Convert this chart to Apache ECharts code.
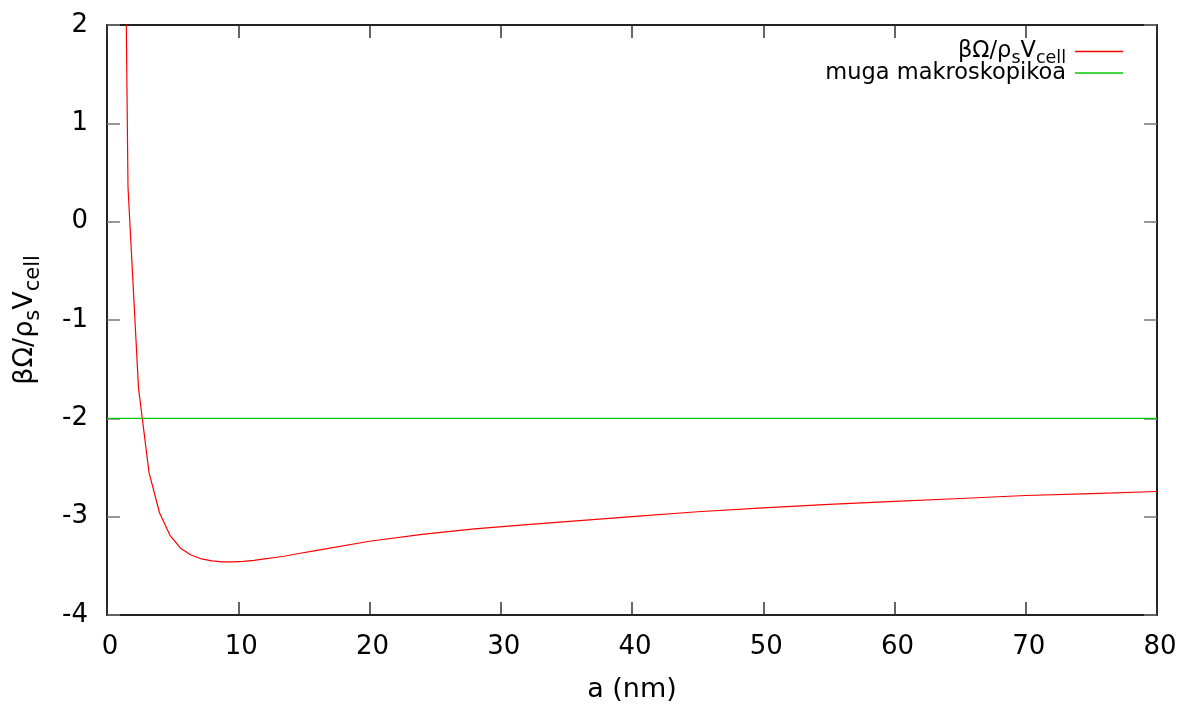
<!DOCTYPE html>
<html>
<head>
<meta charset="utf-8">
<script src="https://cdn.jsdelivr.net/npm/echarts@6/dist/echarts.min.js"></script>
<style>
  html, body { margin: 0; padding: 0; background: #fff; }
  #chart { width: 1180px; height: 708px; }
</style>
</head>
<body>
<div id="chart"></div>
<script>
// a (nm) sample points and the grand potential
const aValues = [0.8, 1.6, 2.4, 3.2, 4.0, 4.8, 5.6, 6.4, 7.2, 8.0, 8.8, 9.6, 10.4, 11.2, 12.0,
  12.8, 13.6, 14.4, 16, 20, 24, 28, 32, 36, 40, 45, 50, 55, 60, 65, 70, 75, 80]
const omegaValues = [10.5, 0.35, -1.69, -2.55, -2.96, -3.19, -3.32, -3.39, -3.43, -3.45, -3.46,
  -3.46, -3.455, -3.445, -3.43, -3.415, -3.40, -3.38, -3.343, -3.25, -3.18, -3.125, -3.08,
  -3.04, -3.0, -2.95, -2.91, -2.875, -2.845, -2.815, -2.785, -2.765, -2.744]
// macroscopic limit
const macroA = [0, 80]
const macroValues = [-2, -2]

const xTicks = { min: 0, max: 80, interval: 10 }
const yTicks = { min: -4, max: 2, interval: 1 }

const NAME_OMEGA = 'βΩ/ρsVcell'
const NAME_MACRO = 'muga makroskopikoa'

const font = 'DejaVu Sans'
// legend text
const richLegend = {
  m: { fontFamily: font, fontSize: 22.5, color: '#000', lineHeight: 30 },
  s: { fontFamily: font, fontSize: 17.5, color: '#000', verticalAlign: 'bottom', height: 16 },
  g: { width: 4 }
}
// axis title, a bit bigger
const richAxis = {
  m: { fontFamily: font, fontSize: 27, color: '#000', lineHeight: 36 },
  s: { fontFamily: font, fontSize: 21, color: '#000', verticalAlign: 'bottom', height: 19 }
}
const omegaRich = '{m|βΩ/ρ}{s|s}{m|V}{s|cell}'

function zip (xs, ys) {
  return xs.map(function (x, i) { return [x, ys[i]] })
}

const xTickStyle = { show: true, inside: true, length: 13, lineStyle: { color: '#333', width: 1.5 } }
const yTickStyle = { show: true, inside: true, length: 13, lineStyle: { color: '#777', width: 1.5 } }
const lineStyleAxis = { show: true, onZero: false, lineStyle: { color: '#222', width: 2 } }
const tickLabel = { fontFamily: font, fontSize: 26, color: '#000' }

const chart = echarts.init(document.getElementById('chart'))

const option = {
  animation: false,
  backgroundColor: '#fff',
  grid: { left: 107, right: 23, top: 25, bottom: 92 },
  legend: {
    orient: 'vertical',
    right: 52,
    top: 35,
    align: 'right',
    icon: 'rect',
    itemWidth: 48,
    itemHeight: 1.5,
    itemGap: -6,
    data: [NAME_OMEGA, NAME_MACRO],
    formatter: function (name) {
      return (name === NAME_OMEGA ? omegaRich : '{m|' + name + '}') + '{g| }'
    },
    textStyle: { rich: richLegend }
  },
  xAxis: [
    {
      type: 'value',
      min: xTicks.min,
      max: xTicks.max,
      interval: xTicks.interval,
      name: 'a (nm)',
      nameLocation: 'middle',
      nameGap: 61,
      nameTextStyle: { fontFamily: font, fontSize: 27, color: '#000' },
      axisLine: lineStyleAxis,
      axisTick: xTickStyle,
      axisLabel: Object.assign({ margin: 19, padding: [0, 0, 0, 6] }, tickLabel),
      splitLine: { show: false }
    },
    {
      type: 'value',
      position: 'top',
      min: xTicks.min,
      max: xTicks.max,
      interval: xTicks.interval,
      axisLine: lineStyleAxis,
      axisTick: xTickStyle,
      axisLabel: { show: false },
      splitLine: { show: false }
    }
  ],
  yAxis: [
    {
      type: 'value',
      min: yTicks.min,
      max: yTicks.max,
      interval: yTicks.interval,
      name: omegaRich,
      nameLocation: 'middle',
      nameRotate: 90,
      nameGap: 64,
      nameTextStyle: { rich: richAxis },
      axisLine: lineStyleAxis,
      axisTick: yTickStyle,
      axisLabel: Object.assign({ margin: 19 }, tickLabel),
      splitLine: { show: false }
    },
    {
      type: 'value',
      position: 'right',
      min: yTicks.min,
      max: yTicks.max,
      interval: yTicks.interval,
      axisLine: lineStyleAxis,
      axisTick: yTickStyle,
      axisLabel: { show: false },
      splitLine: { show: false }
    }
  ],
  series: [
    {
      name: NAME_OMEGA,
      type: 'line',
      data: zip(aValues, omegaValues),
      showSymbol: false,
      clip: true,
      color: '#ff0000',
      lineStyle: { color: '#ff0000', width: 1.2 }
    },
    {
      name: NAME_MACRO,
      type: 'line',
      data: zip(macroA, macroValues),
      showSymbol: false,
      color: '#00cc00',
      lineStyle: { color: '#00cc00', width: 1.2 }
    }
  ]
}

chart.setOption(option)
</script>
</body>
</html>
